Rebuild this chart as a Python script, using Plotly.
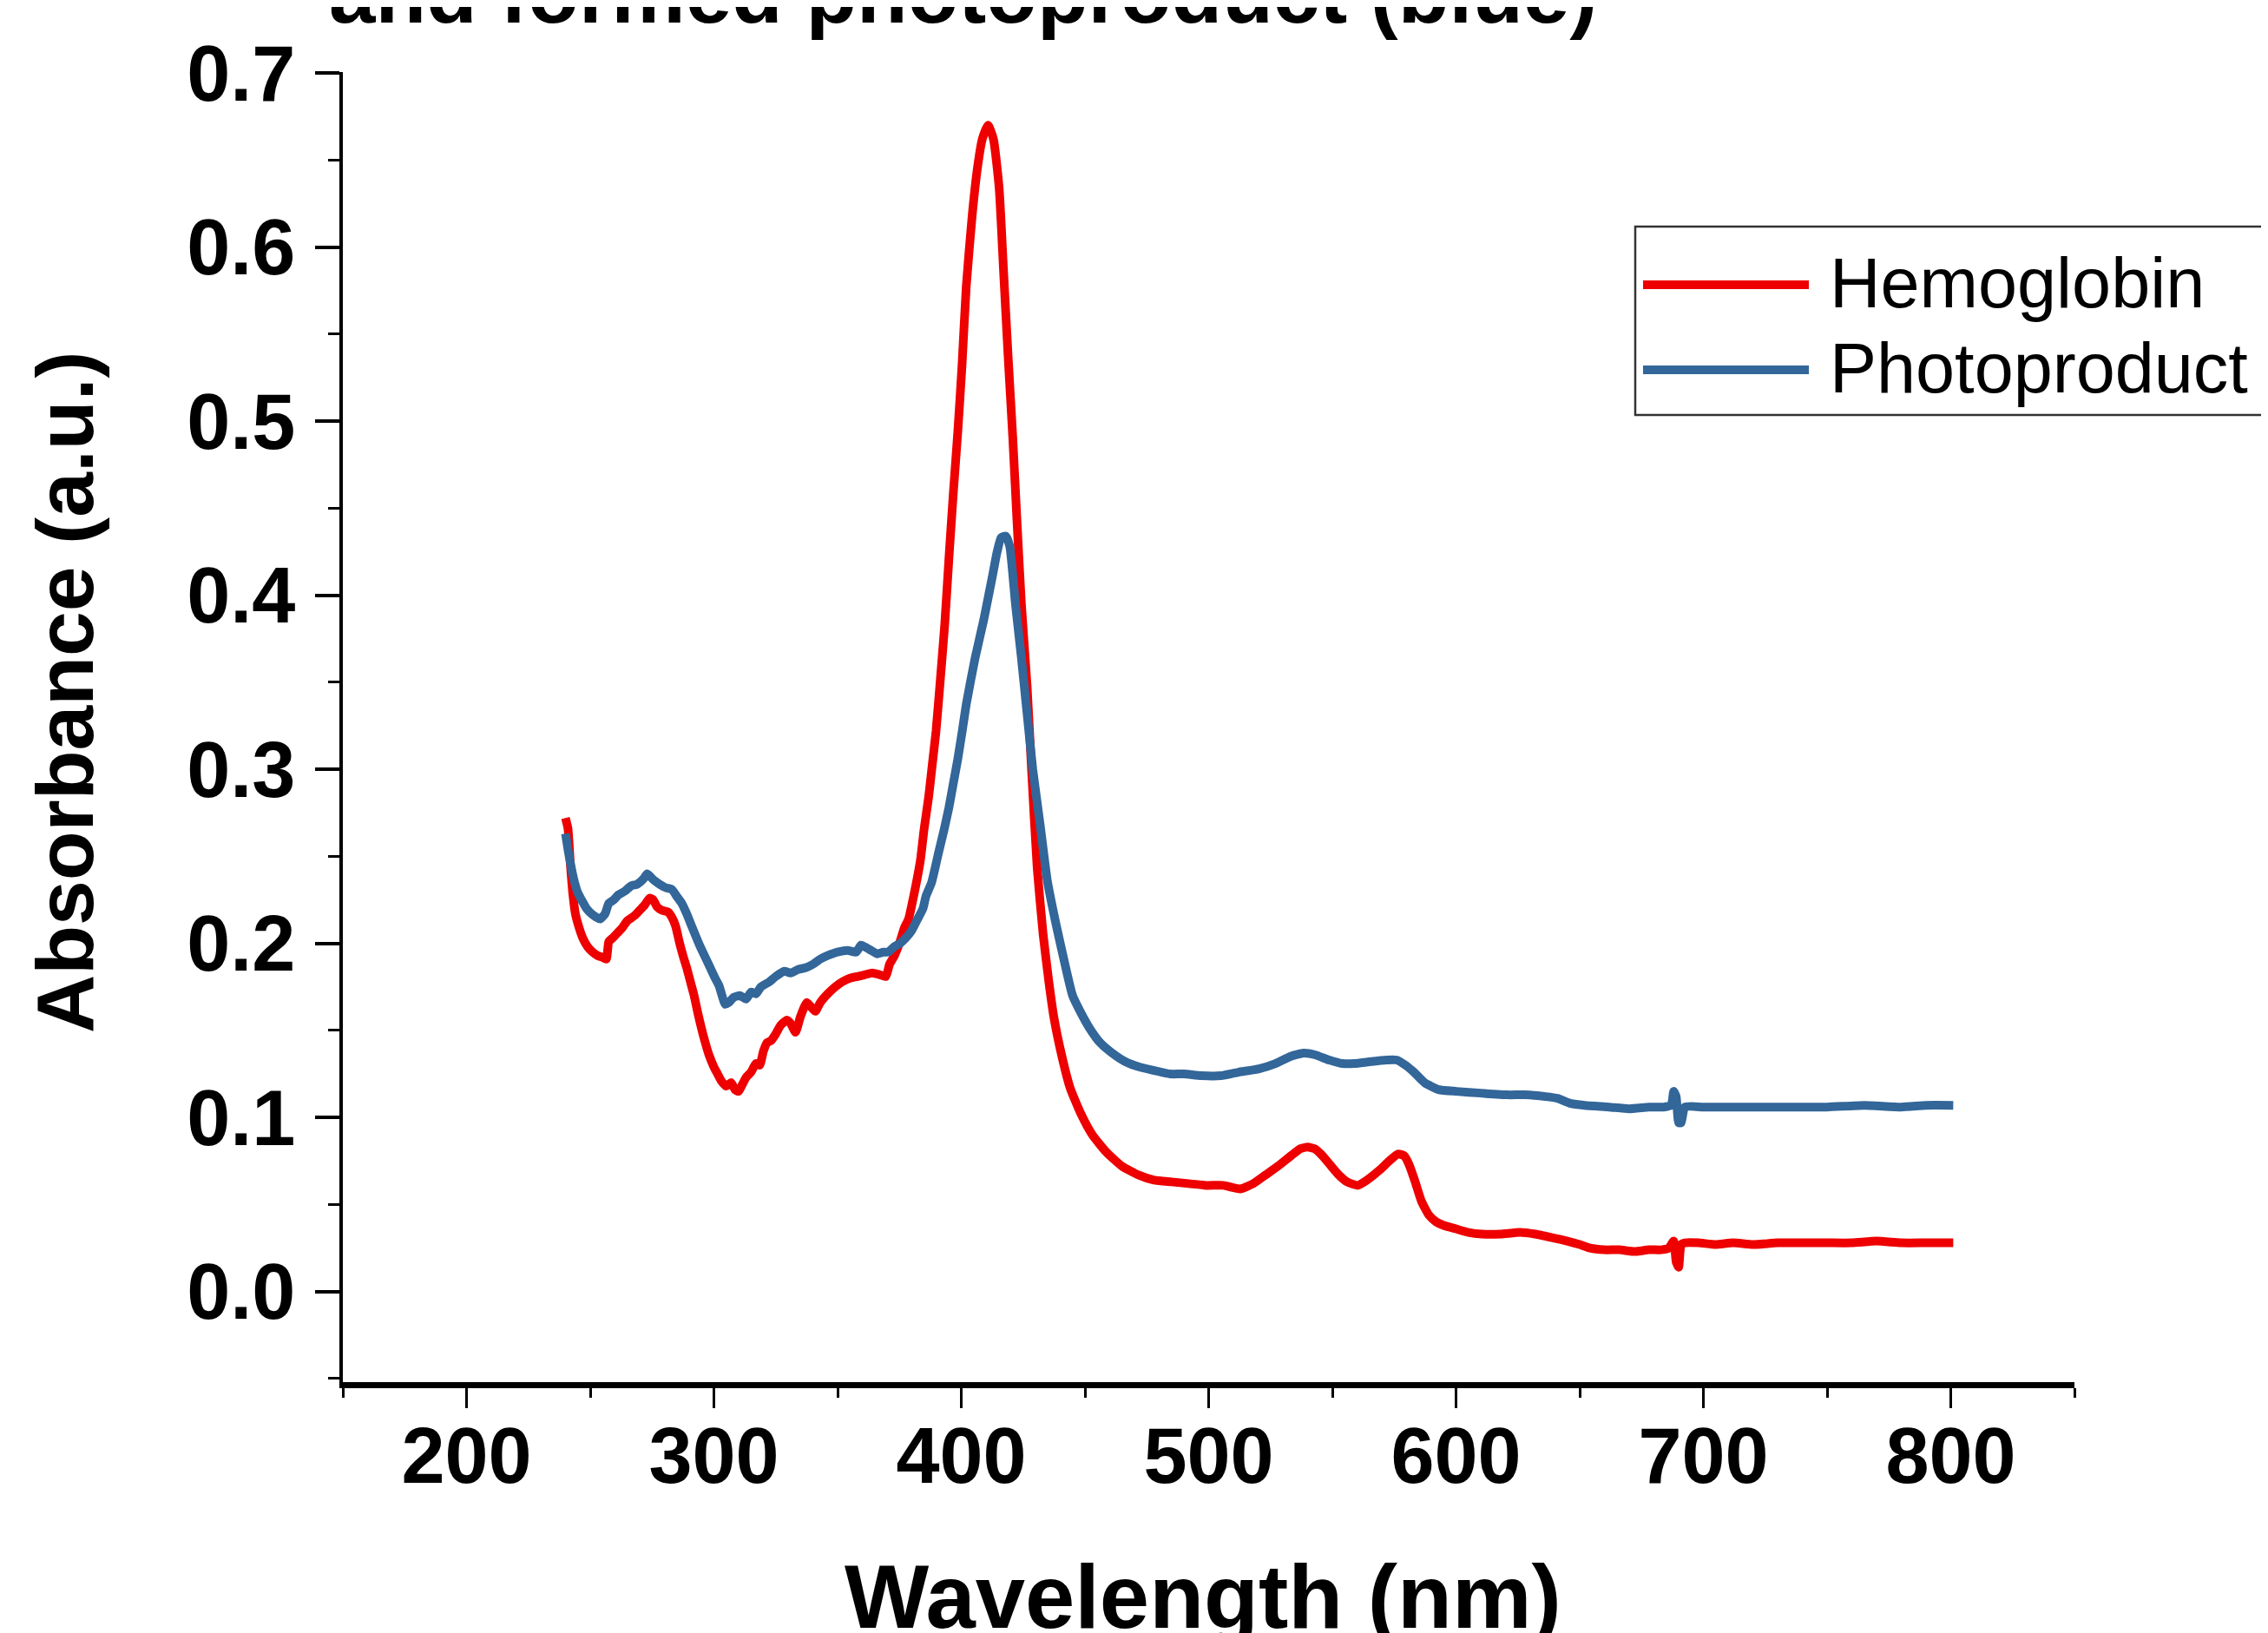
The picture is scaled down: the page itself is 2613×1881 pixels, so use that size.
import plotly.graph_objects as go

# ---------------- data ----------------
hb_wavelength = [240, 241, 242, 243, 244, 245.5, 247, 249, 251, 253, 255, 256.5, 257.5, 259, 261, 263, 265, 268, 270, 272,
                 274, 275.5, 277, 279, 281.5, 283, 284.5, 286, 287.5, 289, 290.5, 292, 293.5, 295, 296.5, 298, 300, 301.5,
                 303, 305, 307, 308.5, 310, 311.5, 313, 315, 317, 318.5, 320, 321.5, 323, 325, 327, 329.5, 331, 333, 335,
                 337.5, 339, 341, 343, 346, 349, 352, 355, 358, 361, 364, 367, 369.5, 371, 373, 375, 377, 378.7, 380, 382,
                 383.5, 385, 386.8, 388.3, 389.8, 391.5, 393.3, 395, 396.8, 398.6, 400.3, 402, 404.4, 406.5, 408.5, 410.8,
                 413, 415.3, 417.1, 418.9, 420.8, 422.5, 424.3, 426.6, 428.4, 430.7, 433.1, 435.4, 437.5, 440.7, 444,
                 448.4, 453, 458.7, 465, 471.6, 478, 485, 492, 499, 506, 512.7, 518, 523, 528, 533.3, 537, 540, 543, 546,
                 549, 552.6, 556, 560.3, 564, 569.3, 573, 576.5, 579, 581, 583.5, 586, 589, 592, 595, 600, 605, 610.5,
                 618, 625.9, 632, 638.8, 645, 650, 654.2, 660, 666, 672.2, 678, 683, 686, 688, 689, 690, 691, 692.5, 698,
                 705, 712, 720, 730, 740, 750, 760, 770, 780, 790, 801]
hb_absorbance = [0.272, 0.266, 0.245, 0.228, 0.217, 0.209, 0.203, 0.198, 0.195, 0.193, 0.192, 0.191, 0.201, 0.203, 0.206,
                 0.209, 0.213, 0.216, 0.219, 0.222, 0.226, 0.225, 0.221, 0.219, 0.218, 0.215, 0.210, 0.201, 0.193, 0.186,
                 0.178, 0.170, 0.160, 0.151, 0.143, 0.136, 0.129, 0.125, 0.121, 0.118, 0.120, 0.116, 0.115, 0.119, 0.123,
                 0.126, 0.131, 0.130, 0.138, 0.143, 0.144, 0.148, 0.153, 0.156, 0.154, 0.149, 0.158, 0.166, 0.164, 0.161,
                 0.166, 0.171, 0.175, 0.178, 0.180, 0.181, 0.182, 0.183, 0.182, 0.181, 0.188, 0.193, 0.200, 0.209, 0.214,
                 0.222, 0.236, 0.248, 0.266, 0.284, 0.303, 0.322, 0.351, 0.383, 0.421, 0.459, 0.494, 0.532, 0.577, 0.618,
                 0.645, 0.662, 0.670, 0.662, 0.634, 0.586, 0.538, 0.491, 0.443, 0.395, 0.348, 0.300, 0.243, 0.205, 0.178,
                 0.157, 0.135, 0.117, 0.102, 0.090, 0.080, 0.072, 0.067, 0.064, 0.063, 0.062, 0.061, 0.061, 0.059, 0.062,
                 0.067, 0.072, 0.078, 0.082, 0.083, 0.082, 0.078, 0.073, 0.067, 0.063, 0.061, 0.064, 0.070, 0.075, 0.079,
                 0.078, 0.073, 0.063, 0.052, 0.044, 0.040, 0.038, 0.036, 0.034, 0.033, 0.033, 0.034, 0.033, 0.031, 0.029,
                 0.027, 0.025, 0.024, 0.024, 0.023, 0.024, 0.024, 0.025, 0.029, 0.017, 0.014, 0.027, 0.028, 0.028, 0.027,
                 0.028, 0.027, 0.028, 0.028, 0.028, 0.028, 0.029, 0.028, 0.028, 0.028]

pp_wavelength = [240, 241, 242, 243.5, 245, 246.5, 248.5, 250.5, 252.5, 254, 256, 257.5, 259.5, 261.5, 264, 266.5, 269,
                 271.5, 273, 274.5, 276, 278, 280.5, 283, 285, 287, 289, 291, 293, 294.5, 296.5, 298.5, 300.5, 302, 303.5,
                 304.5, 306, 308, 310.5, 313, 315, 317, 319, 322.5, 325, 328.5, 331, 334, 337, 340, 343, 346, 350, 354,
                 357.5, 359.5, 361, 363.5, 366, 368.5, 370.5, 372.8, 375.2, 377.5, 379.8, 382, 384.5, 385.7, 388, 390.8,
                 393, 395, 396.8, 398.6, 400.5, 402.1, 405.6, 409.1, 412.6, 414.5, 416.1, 418, 419.6, 421.9, 424.3, 426.6,
                 428.9, 431.9, 434.8, 438.3, 442.4, 445, 448.4, 452, 456.1, 461, 466.4, 472, 478, 484.4, 490, 497, 505,
                 512, 520.4, 527, 533, 538.4, 543, 548.7, 554, 559, 565, 571.9, 576, 579.6, 583, 587.3, 593, 600.2, 610,
                 620.8, 628, 636.2, 641, 646.5, 652, 661.9, 670, 678, 684, 687, 688, 689, 690, 691, 692.5, 700, 710, 723.7,
                 735, 750, 765, 780, 790, 801]
pp_absorbance = [0.263, 0.254, 0.246, 0.236, 0.229, 0.225, 0.220, 0.217, 0.215, 0.214, 0.217, 0.223, 0.225, 0.228, 0.230,
                 0.233, 0.234, 0.237, 0.240, 0.238, 0.236, 0.234, 0.232, 0.231, 0.227, 0.223, 0.217, 0.210, 0.203, 0.198,
                 0.192, 0.186, 0.180, 0.176, 0.169, 0.165, 0.166, 0.169, 0.170, 0.168, 0.172, 0.171, 0.175, 0.178, 0.181,
                 0.184, 0.183, 0.185, 0.186, 0.188, 0.191, 0.193, 0.195, 0.196, 0.195, 0.199, 0.198, 0.196, 0.194, 0.195,
                 0.195, 0.198, 0.200, 0.203, 0.207, 0.213, 0.220, 0.227, 0.235, 0.252, 0.265, 0.278, 0.292, 0.306, 0.323,
                 0.338, 0.364, 0.386, 0.411, 0.425, 0.433, 0.434, 0.428, 0.395, 0.364, 0.332, 0.300, 0.268, 0.236, 0.211,
                 0.185, 0.170, 0.160, 0.151, 0.143, 0.137, 0.132, 0.129, 0.127, 0.125, 0.125, 0.124, 0.124, 0.126, 0.128,
                 0.131, 0.135, 0.137, 0.136, 0.133, 0.131, 0.131, 0.132, 0.133, 0.133, 0.130, 0.126, 0.120, 0.116, 0.115,
                 0.114, 0.113, 0.113, 0.112, 0.111, 0.108, 0.107, 0.106, 0.105, 0.106, 0.106, 0.107, 0.115, 0.112, 0.097,
                 0.097, 0.106, 0.106, 0.106, 0.106, 0.106, 0.106, 0.107, 0.106, 0.107, 0.107]

series_names = ["Hemoglobin", "Photoproduct"]
series_colors = ["#EE0000", "#336699"]
x_tick_values = [200, 300, 400, 500, 600, 700, 800]
y_tick_values = [0.0, 0.1, 0.2, 0.3, 0.4, 0.5, 0.6, 0.7]
title_text = "and formed photoproduct (blue)"
x_title = "Wavelength (nm)"
y_title = "Absorbance (a.u.)"

# ---------------- figure ----------------
W, H = 2613, 1881
OFF = 8  # the page body margin shifts the figure by 8 px
PL, PR, PT, PB = 395, 2390, 83, 1592  # plot area edges in page pixels
ML, MT = PL - OFF, PT - OFF
PW, PH = PR - PL, PB - PT
MR, MB = W - ML - PW, H - MT - PH
FONT = "Liberation Sans, Arial, Helvetica, sans-serif"


def px_x(px):
    return (px - PL) / PW


def px_y(py):
    return (PB - py) / PH


fig = go.Figure()
for wl, ab, name, col in [(hb_wavelength, hb_absorbance, series_names[0], series_colors[0]),
                          (pp_wavelength, pp_absorbance, series_names[1], series_colors[1])]:
    fig.add_trace(go.Scatter(x=wl, y=ab, mode="lines", name=name, showlegend=False,
                             line=dict(color=col, width=10, shape="spline", smoothing=0.5)))

fig.update_layout(
    width=W, height=H,
    margin=dict(l=ML, r=MR, t=MT, b=MB, autoexpand=False),
    paper_bgcolor="white", plot_bgcolor="white",
    font=dict(family=FONT, color="black"),
    showlegend=False,
)

fig.update_xaxes(
    range=[150, 850], tickmode="array", tickvals=x_tick_values,
    ticks="outside", ticklen=23, tickwidth=3, tickcolor="black",
    showline=True, linewidth=7, linecolor="black", mirror=False,
    showgrid=False, zeroline=False,
    tickfont=dict(family=FONT, size=90, color="black", weight="bold"),
    ticklabelstandoff=-22,
    minor=dict(ticks="outside", tick0=150, dtick=50, ticklen=11, tickwidth=3, tickcolor="black", showgrid=False),
)
fig.update_yaxes(
    range=[-0.052, 0.7005], tickmode="array", tickvals=y_tick_values, tickformat=".1f",
    ticks="outside", ticklen=28, tickwidth=4, tickcolor="black",
    showline=True, linewidth=3.5, linecolor="black", mirror=False,
    showgrid=False, zeroline=False,
    tickfont=dict(family=FONT, size=90, color="black", weight="bold"),
    ticklabelstandoff=5,
    minor=dict(ticks="outside", tick0=0, dtick=0.05, ticklen=13, tickwidth=3, tickcolor="black", showgrid=False),
)

annotations = [
    dict(text="<b>" + title_text + "</b>", xref="paper", yref="paper", x=px_x(377), y=px_y(-8),
         xanchor="left", yanchor="middle", showarrow=False, font=dict(family=FONT, size=96, color="black")),
    dict(text="<b>" + x_title + "</b>", xref="paper", yref="paper", x=px_x(1386), y=px_y(1840),
         xanchor="center", yanchor="middle", showarrow=False, font=dict(family=FONT, size=103, color="black")),
    dict(text="<b>" + y_title + "</b>", xref="paper", yref="paper", x=px_x(75), y=px_y(798),
         xanchor="center", yanchor="middle", textangle=-90, showarrow=False,
         font=dict(family=FONT, size=93, color="black")),
]

# custom legend (box, line samples, labels)
shapes = [
    dict(type="rect", xref="paper", yref="paper", x0=px_x(1884), x1=px_x(2609), y0=px_y(478), y1=px_y(261),
         line=dict(color="#333333", width=2.5), fillcolor="white", layer="above"),
]
legend_rows_y = [328, 426]
for name, col, ry in zip(series_names, series_colors, legend_rows_y):
    shapes.append(dict(type="line", xref="paper", yref="paper", x0=px_x(1893), x1=px_x(2084),
                       y0=px_y(ry), y1=px_y(ry), line=dict(color=col, width=10), layer="above"))
    annotations.append(dict(text=name, xref="paper", yref="paper", x=px_x(2106), y=px_y(ry - 2),
                            xanchor="left", yanchor="middle", showarrow=False,
                            font=dict(family=FONT, size=81, color="black")))

fig.update_layout(annotations=annotations, shapes=shapes)
fig.write_html("out.html")
